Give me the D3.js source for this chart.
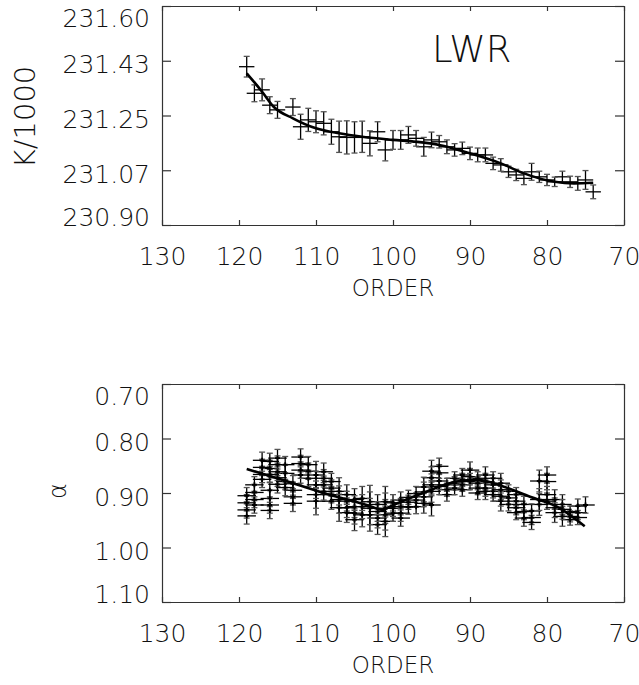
<!DOCTYPE html>
<html lang="en">
<head>
    <meta charset="UTF-8">
    <script type="text/javascript" src="https://cdn.jsdelivr.net/npm/d3@7"></script>
    <title>LWR</title>
    <style>
        body { margin: 0; background: #fff; }
        text { font-family: "DejaVu Sans", sans-serif; font-weight: 300; fill: #111; }
    </style>
</head>
<body>

</body>
<script>
    // 横轴 ORDER
    var xTicks = [130, 120, 110, 100, 90, 80, 70];

    // 上图 K/1000
    var topTicks = [230.90, 231.075, 231.25, 231.425, 231.60];
    var topTickLabels = ["230.90", "231.07", "231.25", "231.43", "231.60"];
    var topOrder = [119, 118, 117, 116, 115, 113, 112, 111, 110, 109, 108, 107, 106, 105, 104, 103, 102, 101,
        100, 99, 98, 97, 96, 95, 94, 93, 92, 91, 90, 89, 88, 87, 86, 85, 84, 83, 82, 81, 80, 79, 78, 77, 76, 75, 74];
    var topK = [231.406, 231.321, 231.332, 231.283, 231.268, 231.277, 231.214, 231.236, 231.230, 231.225, 231.198,
        231.182, 231.180, 231.180, 231.182, 231.161, 231.198, 231.140,
        231.172, 231.172, 231.188, 231.177, 231.150, 231.172, 231.166, 231.150, 231.140, 231.145, 231.129, 231.124,
        231.124, 231.097, 231.092, 231.070, 231.060, 231.049, 231.070, 231.054, 231.044, 231.038, 231.054, 231.038,
        231.033, 231.044, 231.006];
    var topErr = [0.033, 0.027, 0.035, 0.027, 0.027, 0.027, 0.040, 0.037, 0.035, 0.037, 0.040, 0.050, 0.053, 0.050,
        0.050, 0.040, 0.032, 0.035,
        0.030, 0.030, 0.027, 0.025, 0.030, 0.025, 0.020, 0.022, 0.020, 0.020, 0.020, 0.022, 0.022, 0.020, 0.020,
        0.018, 0.018, 0.020, 0.027, 0.018, 0.018, 0.015, 0.018, 0.018, 0.022, 0.030, 0.022];
    var topFitOrder = [119, 117, 115.5, 113, 110, 107, 104, 100, 97, 94, 90, 86, 83, 79, 76.5, 74];
    var topFitK = [231.385, 231.326, 231.278, 231.241, 231.209, 231.193, 231.182, 231.172, 231.166, 231.156,
        231.129, 231.097, 231.065, 231.038, 231.033, 231.035];

    // 下图 alpha (每个 order 有几条谱线)
    var botTicks = [0.70, 0.80, 0.90, 1.00, 1.10];
    var botTickLabels = ["0.70", "0.80", "0.90", "1.00", "1.10"];
    var botOrder = [119, 118, 117, 116, 115, 114, 113, 112, 111, 110, 109, 108, 107, 106, 105, 104, 103, 102, 101,
        100, 99, 98, 97, 96, 95, 94, 93, 92, 91, 90, 89, 88, 87, 86, 85, 84, 83, 82, 81, 80, 79, 78, 77, 76, 75];
    var botAlpha = [
        [0.905, 0.918, 0.931, 0.942], [0.885, 0.899, 0.912, 0.922], [0.840, 0.853, 0.866, 0.875],
        [0.842, 0.855, 0.866, 0.895, 0.910, 0.922, 0.932], [0.836, 0.848, 0.861, 0.872, 0.884],
        [0.848, 0.864, 0.879, 0.890], [0.883, 0.895, 0.907, 0.919], [0.834, 0.846, 0.858, 0.867],
        [0.848, 0.860, 0.873], [0.867, 0.885, 0.903, 0.915], [0.861, 0.873, 0.885, 0.897],
        [0.879, 0.891, 0.903, 0.915], [0.897, 0.912, 0.927], [0.903, 0.915, 0.927, 0.936],
        [0.912, 0.925, 0.937, 0.949], [0.910, 0.925, 0.940], [0.916, 0.928, 0.940],
        [0.921, 0.934, 0.946, 0.958], [0.916, 0.928, 0.940, 0.952],
        [0.918, 0.928, 0.937], [0.913, 0.925, 0.937, 0.946], [0.908, 0.917, 0.926], [0.901, 0.913, 0.925],
        [0.889, 0.898, 0.907, 0.919], [0.860, 0.872, 0.885, 0.897, 0.922], [0.851, 0.863, 0.878, 0.888],
        [0.885, 0.894, 0.903], [0.873, 0.882, 0.891], [0.867, 0.876, 0.885, 0.894], [0.858, 0.870, 0.879],
        [0.873, 0.882, 0.891, 0.900], [0.867, 0.879, 0.891, 0.897], [0.873, 0.885, 0.897, 0.903],
        [0.882, 0.894, 0.906, 0.915], [0.897, 0.909, 0.921], [0.903, 0.915, 0.927, 0.936],
        [0.921, 0.934, 0.946], [0.933, 0.945, 0.954], [0.878, 0.912, 0.921], [0.867, 0.879, 0.903, 0.915],
        [0.912, 0.927, 0.936], [0.921, 0.930, 0.943], [0.934, 0.943, 0.949], [0.924, 0.936, 0.945], [0.922]
    ];
    var botErr = [0.015, 0.015, 0.015, 0.015, 0.016, 0.015, 0.015, 0.015, 0.015, 0.025, 0.016, 0.015, 0.025, 0.018,
        0.020, 0.022, 0.030, 0.018, 0.028, 0.015, 0.015, 0.013, 0.013, 0.018, 0.020, 0.015, 0.012, 0.012, 0.012,
        0.015, 0.012, 0.015, 0.012, 0.018, 0.012, 0.013, 0.015, 0.013, 0.020, 0.015, 0.018, 0.018, 0.010, 0.013, 0.015];
    var botFitOrder = [119, 114.3, 109, 103.4, 101.3, 100.4, 96.1, 91.7, 89.1, 85.7, 82.2, 78.7, 75.1];
    var botFitAlpha = [0.856, 0.876, 0.900, 0.922, 0.931, 0.925, 0.900, 0.879, 0.876, 0.888, 0.907, 0.925, 0.961];

    var svg = d3.select("body")
        .append("svg")
        .attr("width", 639)
        .attr("height", 685)

    var x = d3.scaleLinear().domain([130, 70]).range([162, 624]);
    var yTop = d3.scaleLinear().domain([230.90, 231.60]).range([225, 6]);
    var yBot = d3.scaleLinear().domain([0.70, 1.10]).range([384, 602]);

    function frame(y, ticks, labels) {
        var r = y.range(), top = Math.min(r[0], r[1]), bottom = Math.max(r[0], r[1]);
        var axes = [
            svg.append("g").attr("transform", `translate(0,${bottom})`)
                .call(d3.axisBottom(x).tickValues(xTicks).tickSizeInner(-5).tickSizeOuter(0).tickPadding(22)
                    .tickFormat(d3.format("d"))),
            svg.append("g").attr("transform", `translate(0,${top})`)
                .call(d3.axisTop(x).tickValues(xTicks).tickSizeInner(-5).tickSizeOuter(0).tickFormat("")),
            svg.append("g").attr("transform", "translate(162,0)")
                .call(d3.axisLeft(y).tickValues(ticks).tickSizeInner(-9).tickSizeOuter(0).tickPadding(12)
                    .tickFormat((d, i) => labels[i])),
            svg.append("g").attr("transform", "translate(624,0)")
                .call(d3.axisRight(y).tickValues(ticks).tickSizeInner(-9).tickSizeOuter(0).tickFormat(""))
        ];
        axes.forEach(g => {
            g.attr("font-size", null).attr("font-family", null);
            g.selectAll("path, line").attr("stroke", "#333").attr("stroke-width", 1.2);
            g.selectAll("text").attr("font-size", 25).attr("fill", "#111");
        });
        // 两端的刻度标签往里收
        axes[2].selectAll("text")
            .attr("dy", null)
            .attr("y", d => y(d) === top ? 20.5 : (y(d) === bottom ? 0 : 12));

        svg.append("text")
            .attr("x", 393).attr("y", bottom + 71)
            .attr("text-anchor", "middle")
            .attr("font-size", 23)
            .text("ORDER");
    }

    function points(data, y, halfW, mark) {
        var g = svg.append("g").attr("stroke", "#000").attr("stroke-width", 1.3).attr("fill", "none");
        g.selectAll("line.v").data(data).enter().append("line")
            .attr("x1", d => x(d.o)).attr("x2", d => x(d.o))
            .attr("y1", d => y(d.v - d.e)).attr("y2", d => y(d.v + d.e));
        g.selectAll("line.h").data(data).enter().append("line")
            .attr("x1", d => x(d.o + halfW)).attr("x2", d => x(d.o - halfW))
            .attr("y1", d => y(d.v)).attr("y2", d => y(d.v));
        [-1, 1].forEach(s => {
            g.selectAll("line.c" + s).data(data).enter().append("line")
                .attr("stroke", "#555")
                .attr("x1", d => x(d.o) - 3).attr("x2", d => x(d.o) + 3)
                .attr("y1", d => y(d.v + s * d.e)).attr("y2", d => y(d.v + s * d.e));
        });
        if (mark) {
            g.selectAll("path.m").data(data).enter().append("path")
                .attr("stroke-width", 1.8)
                .attr("d", d => `M${x(d.o) - 2.5},${y(d.v)}h5M${x(d.o)},${y(d.v) - 2.5}v5`);
        }
    }

    function fit(orders, vals, y) {
        svg.append("path")
            .datum(orders.map((o, i) => [o, vals[i]]))
            .attr("fill", "none")
            .attr("stroke", "#000")
            .attr("stroke-width", 2.6)
            .attr("d", d3.line().x(d => x(d[0])).y(d => y(d[1])).curve(d3.curveMonotoneX));
    }

    // 上图
    frame(yTop, topTicks, topTickLabels);
    var topData = topOrder.map((o, i) => ({o: o, v: topK[i], e: topErr[i]}));
    points(topData, yTop, 1.0, false);
    fit(topFitOrder, topFitK, yTop);

    svg.append("text")
        .attr("transform", "translate(35,117) rotate(-90)")
        .attr("text-anchor", "middle")
        .attr("font-size", 29)
        .text("K/1000");

    svg.append("text")
        .attr("x", 432).attr("y", 62)
        .attr("font-size", 37)
        .text("LWR");

    // 下图
    frame(yBot, botTicks, botTickLabels);
    var botData = [];
    botOrder.forEach((o, i) => botAlpha[i].forEach(v => botData.push({o: o, v: v, e: botErr[i]})));
    points(botData, yBot, 1.2, true);
    fit(botFitOrder, botFitAlpha, yBot);

    svg.append("text")
        .attr("transform", "translate(66,491) rotate(-90)")
        .attr("text-anchor", "middle")
        .attr("font-size", 24)
        .text("α");

</script>
</html>
